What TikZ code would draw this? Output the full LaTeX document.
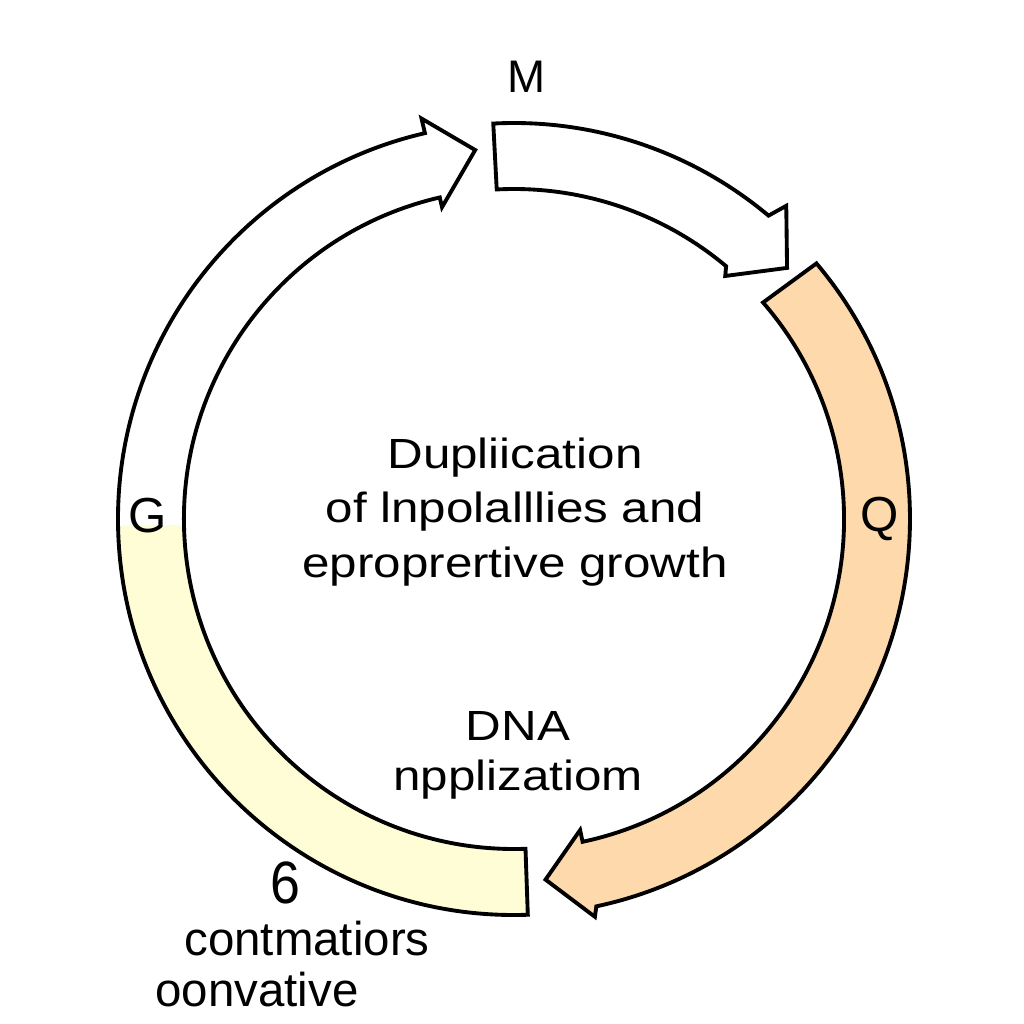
\documentclass[tikz,border=0pt]{standalone}
\usepackage{fontspec}
\setmainfont{Liberation Sans}
\usetikzlibrary{positioning,calc}
\definecolor{phaseorange}{RGB}{253,217,171}
\definecolor{phaseyellow}{RGB}{255,253,214}
\tikzset{band/.style={draw=black,line width=1.1pt,line join=miter},
	lbl/.style={anchor=base,inner sep=0pt,font=\fontsize{14}{16}\selectfont},
	txt/.style={align=center,inner sep=0pt,xscale=1.17,font=\fontsize{12}{15.6}\selectfont}}

\begin{document}
\begin{tikzpicture}
	\useasboundingbox (-5.14,-5.05) rectangle (5.10,5.19);
	\coordinate (O) at (0,0);
	% yellow part of the left band
	\fill[phaseyellow] (181:3.96) arc[start angle=181,end angle=272,radius=3.96]
	   -- (272:3.30) arc[start angle=272,end angle=181,radius=3.30] -- cycle;
	% left arrow, up to M
	\draw[band] (272:3.96) arc[start angle=272,end angle=103,radius=3.96]
	   -- (103:4.11) -- (96:3.71) -- (103:3.20) -- (103:3.30)
	   arc[start angle=103,end angle=272,radius=3.30] -- cycle;
	% arrow after M
	\draw[band,fill=white] (93:3.96) arc[start angle=93,end angle=50,radius=3.96]
	   -- (49:4.15) -- (42.6:3.71) -- (49:3.22) -- (50:3.30)
	   arc[start angle=50,end angle=93,radius=3.30] -- cycle;
	% Q band
	\draw[band,fill=phaseorange] (40.2:3.96) arc[start angle=40.2,end angle=-78,radius=3.96]
	   -- (-78.5:4.06) -- (-85:3.62) -- (-78:3.18) -- (-78:3.30)
	   arc[start angle=-78,end angle=41,radius=3.30] -- cycle;
	
	\node[lbl,font=\fontsize{13}{15}\selectfont] (M) at (0.13,4.27) {M};
	\node[lbl] (G) at (-3.66,-0.13) {G};
	\node[lbl] (Q) at (3.66,-0.12) {Q};
	
	\node[txt] (centre) at (0.01,0.07) {Dupliication\\of lnpolalllies and\\eproprertive growth};
	\node[txt,font=\fontsize{12}{14.2}\selectfont] (dna) at (0.04,-2.36) {DNA\\npplizatiom};
	
	\node[lbl,font=\fontsize{17}{20}\selectfont,xscale=0.9] (six) at (-2.29,-3.84) {6};
	\node[lbl,font=\fontsize{13.5}{15}\selectfont] (cont) at (-2.07,-4.36) {contmatiors};
	\node[lbl,font=\fontsize{13.5}{15}\selectfont] (oonv) at (-2.57,-4.87) {oonvative};
\end{tikzpicture}
\end{document}
